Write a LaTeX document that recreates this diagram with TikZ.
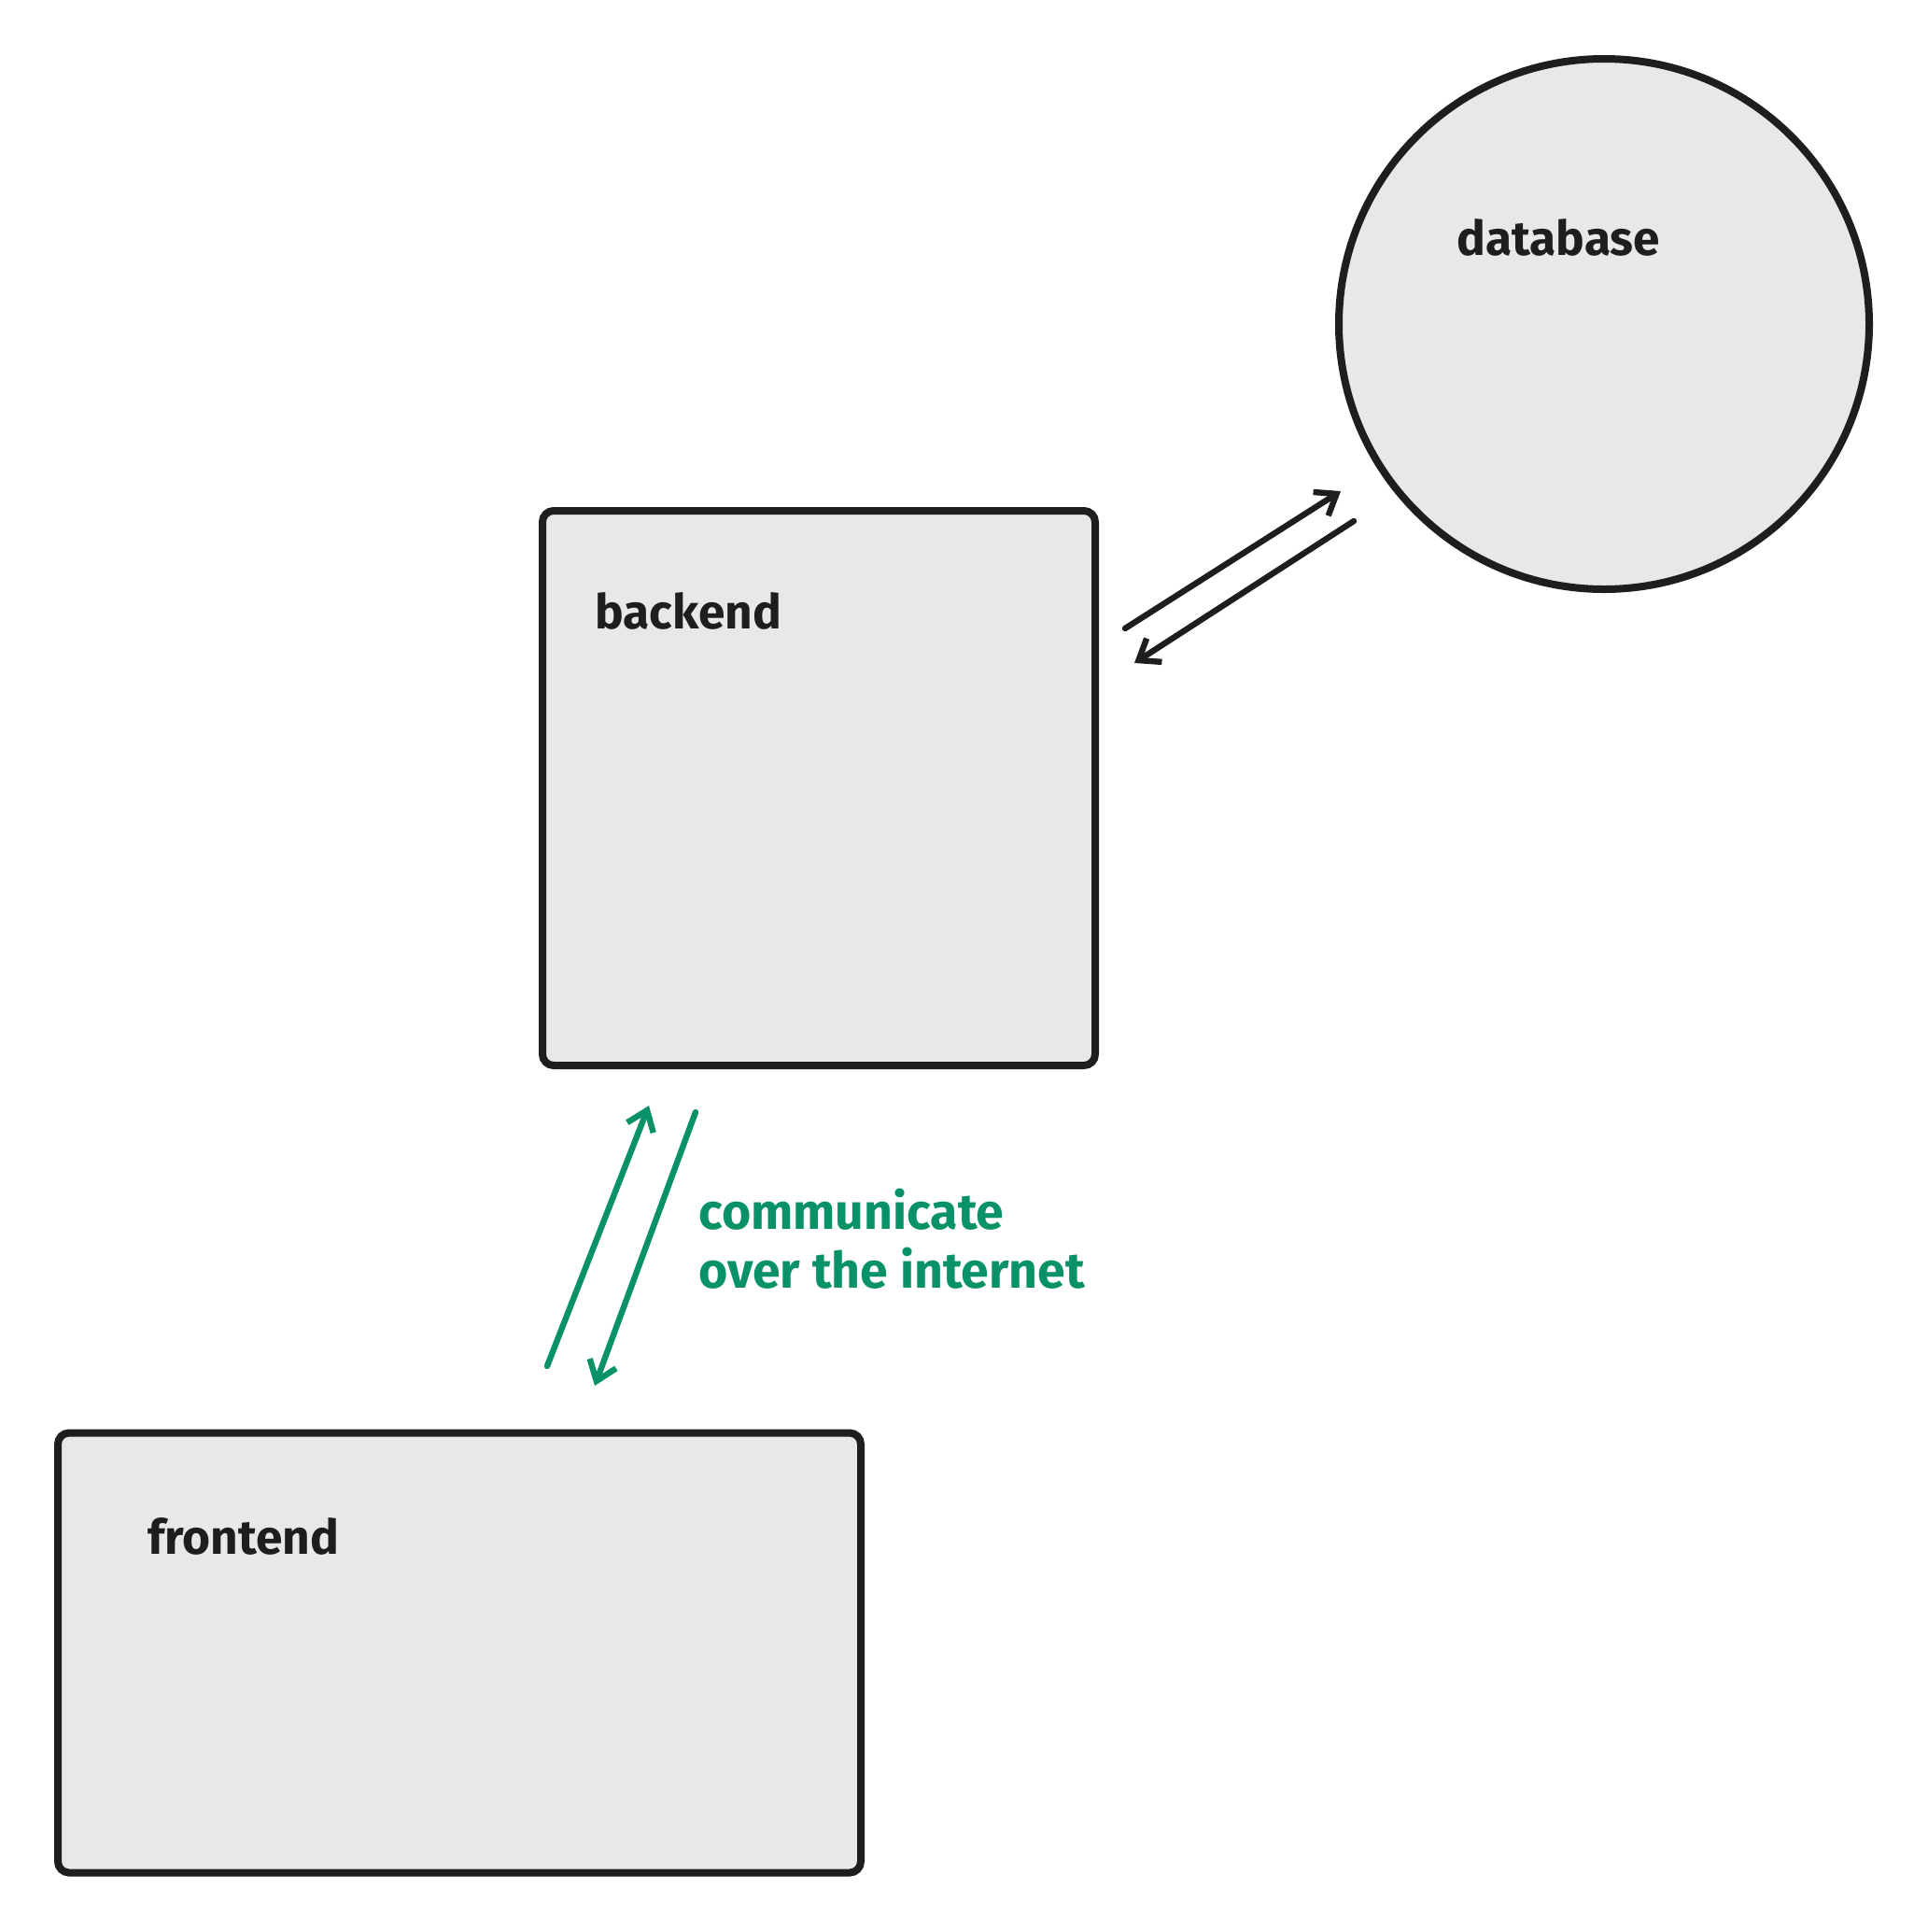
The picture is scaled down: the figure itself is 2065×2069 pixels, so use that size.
\documentclass[tikz,border=0pt]{standalone}
\usepackage{fontspec}
\setmainfont{Fira Sans}
\usetikzlibrary{arrows.meta}
\definecolor{ink}{HTML}{1E1E1E}
\definecolor{boxfill}{HTML}{E8E8E8}
\definecolor{netgreen}{HTML}{099268}
\begin{document}
\begin{tikzpicture}[x=0.5pt,y=-0.5pt,
  box/.style={draw=ink, fill=boxfill, line width=4pt, rounded corners=6pt, inner sep=0pt},
  dbshape/.style={draw=ink, fill=boxfill, line width=4pt, circle, inner sep=0pt},
  lbl/.style={anchor=base west, inner sep=0pt, font=\fontsize{25.7}{31.5}\selectfont\bfseries, text=ink},
  glbl/.style={lbl, text=netgreen, font=\fontsize{26.8}{31.5}\selectfont\bfseries},
  conn/.style={draw=ink, line width=3.2pt, line cap=round, line join=round,
    -{Straight Barb[length=10pt,width=15pt]}},
  gconn/.style={conn, draw=netgreen}]
\useasboundingbox (0,0) rectangle (2065,2069);
\node[box, minimum width=296pt, minimum height=297pt] (backend) at (877,844) {};
\node[box, minimum width=430pt, minimum height=235.5pt] (frontend) at (492,1770) {};
\node[dbshape, minimum size=284pt] (database) at (1718,347) {};
\node[lbl] (dbtext) at (1560,273) {database};
\node[lbl] (betext) at (637,673) {backend};
\node[lbl] (fetext) at (158,1664) {frontend};
\node[glbl] (gl1) at (748,1316) {communicate};
\node[glbl] (gl2) at (748,1379) {over the internet};
\coordinate (bdS) at (1205,673);
\coordinate (bdE) at (1436,526);
\coordinate (dbS) at (1450,558);
\coordinate (dbE) at (1215,710);
\coordinate (fbS) at (586,1463);
\coordinate (fbE) at (695,1184);
\coordinate (bfS) at (745,1191);
\coordinate (bfE) at (637,1484);
\draw[conn] (bdS) -- (bdE);
\draw[conn] (dbS) -- (dbE);
\draw[gconn] (fbS) -- (fbE);
\draw[gconn] (bfS) -- (bfE);
\end{tikzpicture}
\end{document}
